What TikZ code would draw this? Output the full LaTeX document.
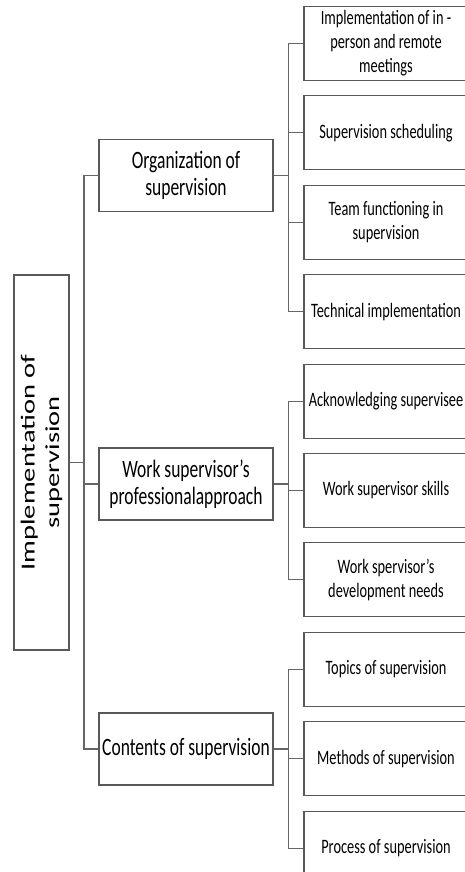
\documentclass[tikz,border=0pt]{standalone}
\usepackage{fontspec}
\setmainfont{Carlito}[FakeStretch=0.7]
\newfontfamily\rootfont{Carlito}
\usetikzlibrary{positioning}

\begin{document}
\begin{tikzpicture}[
  x=1pt, y=-1pt,
  node distance=14.3pt,
  box/.style={
    draw=black!65, line width=1.1pt,
    minimum width=174pt, minimum height=72pt,
    align=center, inner sep=2pt,
    font=\fontsize{25}{27}\selectfont
  },
  leaf/.style={
    box, minimum width=164pt, minimum height=74pt,
    font=\fontsize{20.5}{24}\selectfont
  },
  rootbox/.style={
    draw=black!65, line width=1.1pt,
    rotate=90, yscale=0.7,
    minimum width=375pt, minimum height=78.6pt,
    align=center, inner sep=2pt,
    font=\rootfont\fontsize{28.5}{35}\selectfont
  },
  conn/.style={draw=black!60, line width=1.1pt}
]
\useasboundingbox (0,0) rectangle (465,872);
\clip (0,0) rectangle (465,872);

\node[rootbox] (root) at (41.5,462.5) {Implementation of\\ supervision};

\node[box] (org) at (186,175.5) {Organization of\\ supervision};
\node[box] (work) at (186,484) {Work supervisor’s\\ professionalapproach};
\node[box] (cont) at (186,749) {Contents of supervision};

% right column
\node[leaf] (meet) at (386,43.5)
  {Implementation of in -\\ person and remote\\ meetings};
\node[leaf, below=of meet] (sched) {Supervision scheduling};
\node[leaf, below=of sched] (team) {Team functioning in\\ supervision};
\node[leaf, below=of team] (tech) {Technical implementation};
\node[leaf, below=of tech] (ackn) {Acknowledging supervisee};
\node[leaf, below=of ackn] (skill) {Work supervisor skills};
\node[leaf, below=of skill] (need) {Work spervisor’s\\ development needs};
\node[leaf, below=of need] (topic) {Topics of supervision};
\node[leaf, below=of topic] (meth) {Methods of supervision};
\node[leaf, below=of meth] (proc) {Process of supervision};

\coordinate (trunk) at (84,462.5);
\draw[conn] (root.south) -- (trunk);
\foreach \c in {org,work,cont}
  \draw[conn] (trunk) |- (\c.west);

\coordinate (orgsplit) at ([xshift=15pt]org.east);
\coordinate (worksplit) at ([xshift=15pt]work.east);
\coordinate (contsplit) at ([xshift=15pt]cont.east);
\draw[conn] (org.east) -- (orgsplit);
\draw[conn] (work.east) -- (worksplit);
\draw[conn] (cont.east) -- (contsplit);
\foreach \c in {meet,sched,team,tech}
  \draw[conn] (orgsplit) |- (\c.west);
\foreach \c in {ackn,skill,need}
  \draw[conn] (worksplit) |- (\c.west);
\foreach \c in {topic,meth,proc}
  \draw[conn] (contsplit) |- (\c.west);

\end{tikzpicture}
\end{document}
